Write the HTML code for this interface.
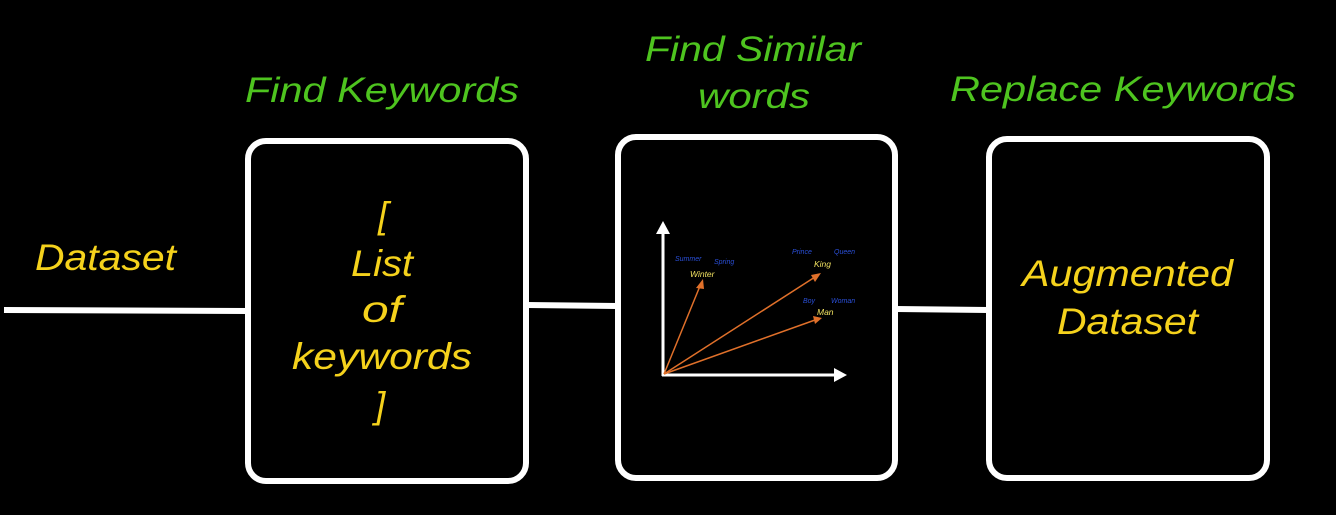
<!DOCTYPE html>
<html><head><style>html,body{margin:0;padding:0;background:#000;}svg{display:block}</style></head>
<body>
<svg width="1336" height="515" viewBox="0 0 1336 515" xmlns="http://www.w3.org/2000/svg" font-family="Liberation Sans, sans-serif" font-style="italic">
<rect width="1336" height="515" fill="#000"/>
<g stroke="#fff" stroke-width="6" fill="none">
<line x1="4" y1="310" x2="247" y2="311"/>
<line x1="527" y1="305" x2="617" y2="306"/>
<line x1="896" y1="309" x2="988" y2="310"/>
<rect x="248" y="141" width="278" height="340" rx="18"/>
<rect x="618" y="137" width="277" height="341" rx="18"/>
<rect x="989" y="139" width="278" height="339" rx="18"/>
</g>
<g fill="#4ec41f" font-size="35">
<text x="245" y="102" textLength="274" lengthAdjust="spacingAndGlyphs">Find Keywords</text>
<text x="645" y="61" textLength="216" lengthAdjust="spacingAndGlyphs">Find Similar</text>
<text x="698" y="108" textLength="112" lengthAdjust="spacingAndGlyphs">words</text>
<text x="950" y="101" textLength="346" lengthAdjust="spacingAndGlyphs">Replace Keywords</text>
</g>
<g fill="#f5d21c" font-size="37">
<text x="35" y="270" textLength="141" lengthAdjust="spacingAndGlyphs">Dataset</text>
<text x="378" y="228">[</text>
<text x="351" y="276" textLength="62" lengthAdjust="spacingAndGlyphs">List</text>
<text x="362" y="322" textLength="40" lengthAdjust="spacingAndGlyphs">of</text>
<text x="292" y="369" textLength="180" lengthAdjust="spacingAndGlyphs">keywords</text>
<text x="375" y="418">]</text>
<text x="1022" y="286" textLength="211" lengthAdjust="spacingAndGlyphs">Augmented</text>
<text x="1057" y="334" textLength="141" lengthAdjust="spacingAndGlyphs">Dataset</text>
</g>
<g stroke="#fff" stroke-width="3" fill="#fff">
<line x1="663" y1="376" x2="663" y2="232"/>
<polygon points="656,234 670,234 663,221" stroke="none"/>
<line x1="662" y1="375" x2="836" y2="375"/>
<polygon points="834,368 834,382 847,375" stroke="none"/>
</g>
<g stroke="#e0702a" stroke-width="1.5" fill="#e0702a">
<line x1="664" y1="374" x2="700" y2="286"/>
<polygon points="703,279 696,288 704,289" stroke="none"/>
<line x1="664" y1="374" x2="815" y2="277"/>
<polygon points="821,273 811,275 815,282" stroke="none"/>
<line x1="664" y1="374" x2="815" y2="320"/>
<polygon points="822,318 813,316 815,324" stroke="none"/>
</g>
<g font-size="7" fill="#2a4fd8">
<text x="675" y="261">Summer</text>
<text x="714" y="264">Spring</text>
<text x="792" y="254">Prince</text>
<text x="834" y="254">Queen</text>
<text x="803" y="303">Boy</text>
<text x="831" y="303">Woman</text>
</g>
<g font-size="8.5" fill="#f0e060">
<text x="690" y="277">Winter</text>
<text x="814" y="267">King</text>
<text x="817" y="315">Man</text>
</g>
</svg>
</body></html>
